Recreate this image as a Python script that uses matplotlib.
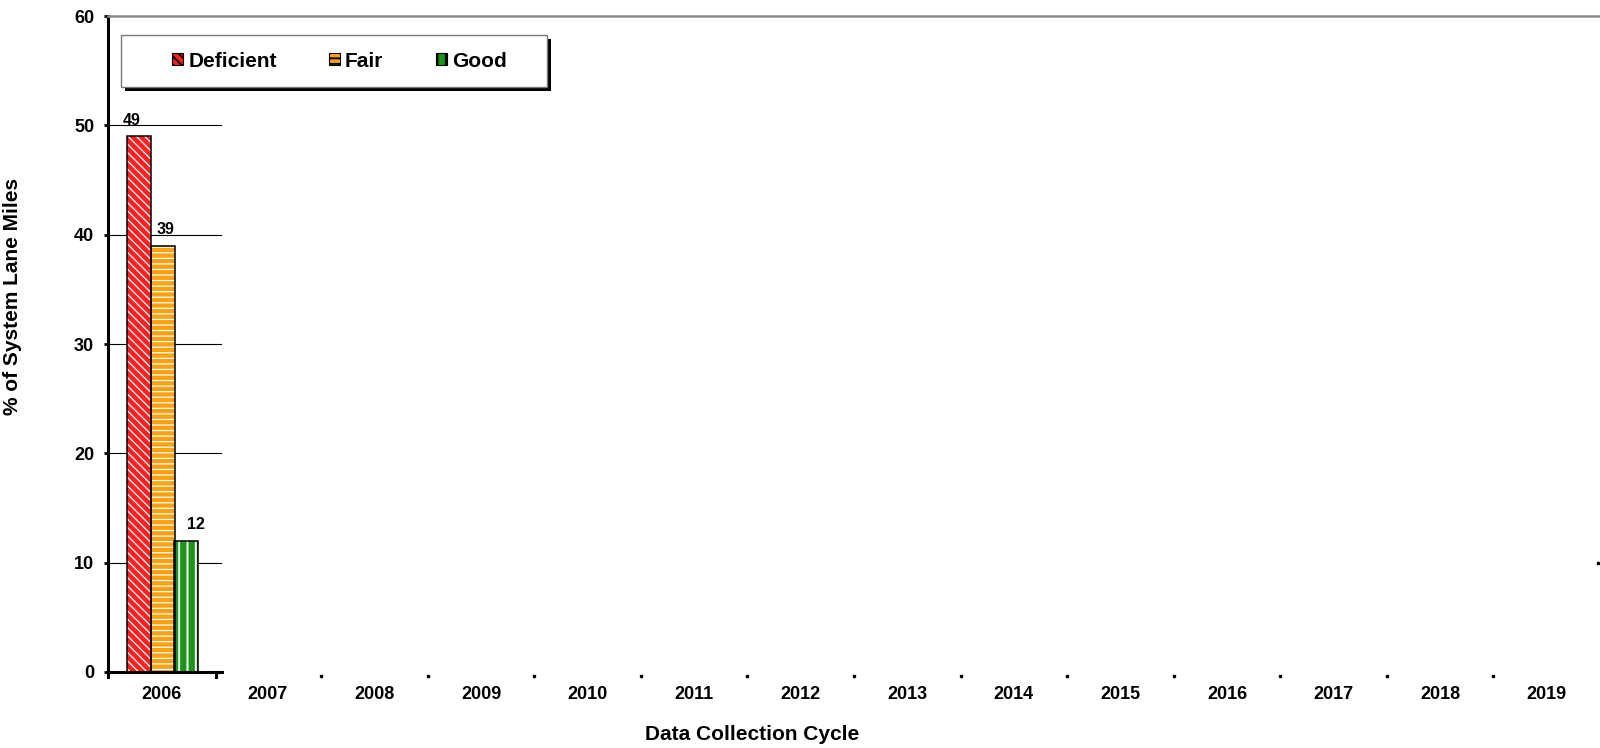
import matplotlib.pyplot as plt
from matplotlib.patches import Rectangle
from matplotlib.lines import Line2D

plt.rcParams['font.family'] = ['Liberation Sans', 'DejaVu Sans']

# data
years = ['2006', '2007', '2008', '2009', '2010', '2011', '2012',
         '2013', '2014', '2015', '2016', '2017', '2018', '2019']
series = ['Deficient', 'Fair', 'Good']
deficient = [49]
fair = [39]
good = [12]
yticks = [0, 10, 20, 30, 40, 50, 60]

colors = {'Deficient': '#ff2020', 'Fair': '#ffa00f', 'Good': '#1a961a'}
hatches = {'Deficient': '\\\\\\\\', 'Fair': '---', 'Good': '||'}
hatch_lw = {'Deficient': 0.9, 'Fair': 0.9, 'Good': 1.4}
offsets = {'Deficient': -0.21, 'Fair': 0.015, 'Good': 0.235}
label_dx = {'Deficient': -5, 'Fair': 2, 'Good': 7}
values = {'Deficient': deficient, 'Fair': fair, 'Good': good}
width = 0.225

W, H = 1600, 748
L, R, T, B = 108, 1600, 16, 672
fig = plt.figure(figsize=(16, 7.48), dpi=100)
ax = fig.add_axes([L/W, 1-B/H, (R-L)/W, (B-T)/H])
ax.set_xlim(-0.5, 13.5)
ax.set_ylim(0, 60)

def ax_x(px):
    return (px - L) / (R - L)

def ax_y(py):
    return (B - py) / (B - T)

# gridlines only across the first category
for yv in yticks[1:-1]:
    ax.plot([-0.5, 0.56], [yv, yv], color='black', lw=0.8, zorder=1)

for s in series:
    plt.rcParams['hatch.linewidth'] = hatch_lw[s]
    xs = [i + offsets[s] for i in range(len(values[s]))]
    ax.bar(xs, values[s], width=width, color=colors[s], edgecolor='white',
           hatch=hatches[s], linewidth=0, zorder=2)
    ax.bar(xs, values[s], width=width, fill=False, edgecolor='black',
           linewidth=1.1, zorder=3)
    for x, v in zip(xs, values[s]):
        ax.annotate(str(v), (x, v), xytext=(label_dx[s], 6),
                    textcoords='offset points', ha='center', va='bottom',
                    fontsize=11.5, fontweight='bold')

ax.spines['right'].set_visible(False)
ax.spines['top'].set_visible(False)
ax.spines['left'].set_linewidth(2.2)
ax.spines['bottom'].set_linewidth(2.2)
ax.spines['bottom'].set_bounds(-0.5, 0.57)

ax.set_yticks(yticks)
ax.set_yticklabels([str(v) for v in yticks], fontsize=13, fontweight='bold')
ax.tick_params(axis='y', direction='out', length=3, width=2, pad=7)
ax.set_xticks(range(len(years)))
ax.set_xticklabels(years, fontsize=13, fontweight='bold')
ax.tick_params(axis='x', length=0, pad=10)

# category boundary marks
ax.plot([-0.5, -0.5], [0, -0.5], color='black', lw=2.2, clip_on=False)
ax.plot([0.513, 0.513], [0, -0.5], color='black', lw=2.2, clip_on=False)
for b in range(1, len(years) - 1):
    ax.plot([b + 0.5], [-0.37], marker='s', ms=1.8, color='black',
            clip_on=False)
ax.plot([13.48], [10], marker='s', ms=1.6, color='black', clip_on=False)

# top line
fig.add_artist(Line2D([L/W, 1.0], [1-T/H, 1-T/H], color='#8a8a8a', lw=1.8))

ax.set_ylabel('% of System Lane Miles', fontsize=15, fontweight='bold')
ax.yaxis.set_label_coords(ax_x(22.5), ax_y(296))
fig.text(752/W, 1-735/H, 'Data Collection Cycle', ha='center',
         va='center', fontsize=15, fontweight='bold')

# legend box with shadow
bw, bh = 426/(R-L), 52/(B-T)
ax.add_patch(Rectangle((ax_x(125), ax_y(91)), bw, bh,
                       transform=ax.transAxes, facecolor='black',
                       edgecolor='none', clip_on=False, zorder=4))
ax.add_patch(Rectangle((ax_x(121), ax_y(87)), bw, bh,
                       transform=ax.transAxes, facecolor='white',
                       edgecolor='#777777', lw=1, clip_on=False, zorder=5))
handles = []
for s in series:
    plt.rcParams['hatch.linewidth'] = hatch_lw[s]
    handles.append(Rectangle((0, 0), 1, 1, facecolor=colors[s],
                             edgecolor='black', hatch=hatches[s], lw=0.8))
leg = ax.legend(handles, series, loc='center left', ncol=3, frameon=False,
                bbox_to_anchor=(ax_x(172), ax_y(61)), borderaxespad=0,
                borderpad=0, prop={'size': 15, 'weight': 'bold'},
                handlelength=0.53, handleheight=0.53, handletextpad=0.25,
                columnspacing=2.5)
leg.set_zorder(6)

fig.savefig('out.png', dpi=100)
